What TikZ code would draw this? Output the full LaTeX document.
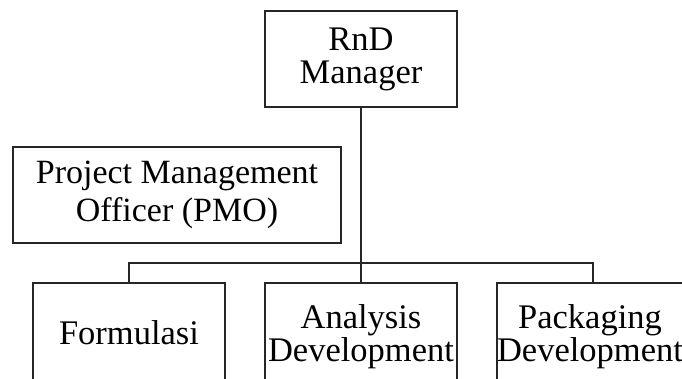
\documentclass[tikz,border=0pt]{standalone}
\usepackage{fontspec}
\setmainfont{Liberation Serif}
\newcommand{\twoline}[2]{\begin{tabular}{@{}c@{}}#1\\#2\end{tabular}}
\begin{document}
\begin{tikzpicture}[x=1pt,y=-1pt,
  box/.style={draw=black!85, line width=1.3pt, align=center, inner sep=0pt,
    font=\fontsize{34.5}{33}\selectfont},
  low/.style={box, minimum width=192pt, minimum height=110pt},
  link/.style={draw=black!85, line width=1.3pt}]
\useasboundingbox (0,0) rectangle (682,378);
\clip (0,0) rectangle (682,378);
\node[box, minimum width=192pt, minimum height=96pt] (rnd) at (361,59) {RnD\\Manager};
\node[box, minimum width=328pt, minimum height=96pt,
  font=\fontsize{34}{38}\selectfont] (pmo) at (177,195) {Project Management\\Officer (PMO)};
\node[low] (form) at (129,338) {\raisebox{11pt}{Formulasi}};
\node[low] (anal) at (361,338) {\raisebox{13pt}{\twoline{Analysis}{Development}}};
\node[low] (pack) at (593,338) {\raisebox{13pt}{\twoline{Packaging}{Development}}\hspace*{6pt}};
\coordinate (bus) at (361,263);
\draw[link] (rnd.south) -- (anal.north);
\draw[link] (form.north) -- (form.north |- bus) -- (pack.north |- bus) -- (pack.north);
\end{tikzpicture}
\end{document}
